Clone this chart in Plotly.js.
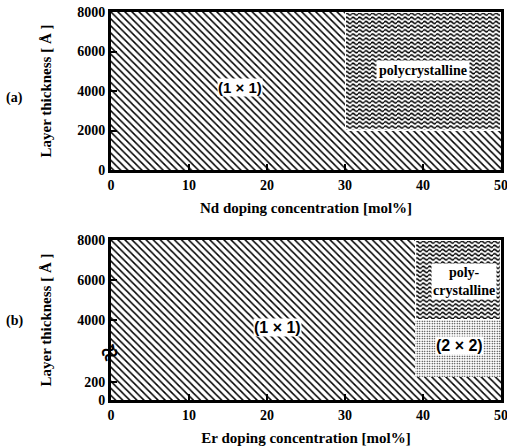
<!DOCTYPE html>
<html>
<head>
<meta charset="utf-8">
<script src="https://cdn.plot.ly/plotly-3.0.1.min.js"></script>
<style>html,body{margin:0;padding:0;background:#fff;}#chart{width:507px;height:447px;}</style>
</head>
<body>
<div id="chart"></div>
<script>
// ---------- data ----------
const xTickVals = [0, 10, 20, 30, 40, 50];

// (a) Nd doping: phase regions [x0,x1] x [y0,y1] (mol%, Å)
const ndPhase = ['1x1', '1x1', 'poly'];
const ndX0 = [0, 30, 30];
const ndX1 = [30, 50, 50];
const ndY0 = [0, 0, 2000];
const ndY1 = [8000, 2000, 8000];
const ndYTicks = [0, 2000, 4000, 6000, 8000];

// (b) Er doping
const erPhase = ['1x1', '1x1', '2x2', 'poly'];
const erX0 = [0, 39, 39, 39];
const erX1 = [39, 50, 50, 50];
const erY0 = [0, 0, 500, 4000];
const erY1 = [8000, 500, 4000, 8000];
const erYTicks = [0, 200, 4000, 6000, 8000];

// ---------- broken-axis transform for (b) ----------
function erScale(v) {
  if (v <= 200) return v * 4.5;
  if (v <= 4000) return 900 + (v - 200) * (3100 / 3800);
  return v;
}
const ident = v => v;

const W = 507, H = 447;
const xDom = [111 / W, 501 / W];
const yDomA = [1 - 170 / H, 1 - 12 / H];
const yDomB = [1 - 400 / H, 1 - 240 / H];

const serif = 'Liberation Serif, Times New Roman, serif';
const sans = 'Liberation Sans, Arial, sans-serif';

const styles = {
  '1x1': {color: 'white', pattern: {shape: '\\', fgcolor: 'black', bgcolor: 'white', size: 5, solidity: 0.3}},
  '2x2': {color: 'white', pattern: {shape: '.', fgcolor: 'black', bgcolor: 'white', size: 2.5, solidity: 0.22}},
  'poly': {color: 'rgba(0,0,0,0)'}
};

function regionTraces(phase, x0, x1, y0, y1, scale, xa, ya) {
  const out = [];
  const kinds = [...new Set(phase)];
  kinds.forEach(k => {
    const idx = phase.map((p, i) => p === k ? i : -1).filter(i => i >= 0);
    out.push({
      type: 'bar',
      name: k,
      x: idx.map(i => (x0[i] + x1[i]) / 2),
      width: idx.map(i => x1[i] - x0[i]),
      base: idx.map(i => scale(y0[i])),
      y: idx.map(i => scale(y1[i]) - scale(y0[i])),
      marker: Object.assign({line: {width: 0}}, styles[k]),
      xaxis: xa, yaxis: ya,
      hoverinfo: 'skip',
      showlegend: false
    });
  });
  return out;
}

function waveSvg(w, h) {
  const svg = "<svg xmlns='http://www.w3.org/2000/svg' width='" + w + "' height='" + h + "'>" +
    "<defs><pattern id='w' width='6.5' height='4.2' patternUnits='userSpaceOnUse'>" +
    "<path d='M0 2.1 Q1.625 0 3.25 2.1 T6.5 2.1' fill='none' stroke='black' stroke-width='1.6'/></pattern></defs>" +
    "<rect width='100%' height='100%' fill='white'/><rect x='1' y='1' width='" + (w - 2) + "' height='" + (h - 2) + "' fill='url(#w)'/></svg>";
  return 'data:image/svg+xml;charset=utf-8,' + encodeURIComponent(svg);
}

function polyImages(phase, x0, x1, y0, y1, scale, xref, yref, yRange, yDom) {
  const imgs = [];
  phase.forEach((p, i) => {
    if (p !== 'poly') return;
    const pw = Math.round((x1[i] - x0[i]) / 50 * (xDom[1] - xDom[0]) * W);
    const ph = Math.round((scale(y1[i]) - scale(y0[i])) / (yRange[1] - yRange[0]) * (yDom[1] - yDom[0]) * H);
    imgs.push({
      source: waveSvg(pw, ph), xref: xref, yref: yref,
      x: x0[i], y: scale(y1[i]), sizex: x1[i] - x0[i], sizey: scale(y1[i]) - scale(y0[i]),
      xanchor: 'left', yanchor: 'top', sizing: 'stretch', layer: 'below'
    });
  });
  return imgs;
}

const data = [].concat(
  regionTraces(ndPhase, ndX0, ndX1, ndY0, ndY1, ident, 'x', 'y'),
  regionTraces(erPhase, erX0, erX1, erY0, erY1, erScale, 'x2', 'y2')
);

const tickFont = {family: serif, size: 14, color: 'black', weight: 700};
const titleFont = {family: serif, size: 15, color: 'black', weight: 700};

function xAxis(anchor, title) {
  return {
    domain: xDom, anchor: anchor, range: [0, 50], tickvals: xTickVals,
    ticks: 'inside', ticklen: 6, tickwidth: 2, tickcolor: 'black',
    showline: true, linewidth: 3, linecolor: 'black', mirror: true,
    showgrid: false, zeroline: false, tickfont: tickFont,
    ticklabelstandoff: 0, ticklabeloverflow: 'allow',
    title: {text: title, font: titleFont, standoff: 11}
  };
}
function yAxis(anchor, dom, vals, text) {
  return {
    domain: dom, anchor: anchor, range: [0, 8000], tickvals: vals, ticktext: text,
    ticks: 'inside', ticklen: 6, tickwidth: 2, tickcolor: 'black',
    showline: true, linewidth: 3, linecolor: 'black', mirror: true,
    showgrid: false, zeroline: false, tickfont: tickFont, ticklabeloverflow: 'allow',
    title: {text: 'Layer thickness [ Å ]', font: titleFont, standoff: 22}
  };
}

const layout = {
  width: W, height: H,
  margin: {l: 0, r: 0, t: 0, b: 0},
  paper_bgcolor: 'white', plot_bgcolor: 'white',
  barmode: 'overlay', bargap: 0,
  showlegend: false,
  xaxis: xAxis('y', 'Nd doping concentration [mol%]'),
  yaxis: yAxis('x', yDomA, ndYTicks, ndYTicks.map(String)),
  xaxis2: xAxis('y2', 'Er doping concentration [mol%]'),
  yaxis2: yAxis('x2', yDomB, erYTicks.map(erScale), erYTicks.map(String)),
  images: [].concat(
    polyImages(ndPhase, ndX0, ndX1, ndY0, ndY1, ident, 'x', 'y', [0, 8000], yDomA),
    polyImages(erPhase, erX0, erX1, erY0, erY1, erScale, 'x2', 'y2', [0, 8000], yDomB)
  ),
  annotations: [
    {xref: 'x', yref: 'y', x: 16.5, y: 4200, text: '(1 × 1)', showarrow: false,
     font: {family: sans, size: 15, color: 'black', weight: 700}, bgcolor: 'white', borderpad: 0},
    {xref: 'x', yref: 'y', x: 40, y: 5050, text: 'polycrystalline', showarrow: false,
     font: {family: serif, size: 14, color: 'black', weight: 700}, bgcolor: 'white', borderpad: 2},
    {xref: 'x2', yref: 'y2', x: 21.3, y: 3650, text: '(1 × 1)', showarrow: false,
     font: {family: sans, size: 16, color: 'black', weight: 700}, bgcolor: 'white', borderpad: 0},
    {xref: 'x2', yref: 'y2', x: 45.3, y: 5950, text: 'poly-<br>crystalline', showarrow: false,
     font: {family: serif, size: 14, color: 'black', weight: 700}, bgcolor: 'white', borderpad: 1},
    {xref: 'x2', yref: 'y2', x: 44.7, y: 2750, text: '(2 × 2)', showarrow: false,
     font: {family: sans, size: 16, color: 'black', weight: 700}, bgcolor: 'white', borderpad: 0},
    {xref: 'paper', yref: 'paper', x: 14 / W, y: 1 - 98 / H, xanchor: 'center', yanchor: 'middle', text: '(a)', showarrow: false,
     font: {family: serif, size: 14, color: 'black', weight: 700}},
    {xref: 'paper', yref: 'paper', x: 14 / W, y: 1 - 321 / H, xanchor: 'center', yanchor: 'middle', text: '(b)', showarrow: false,
     font: {family: serif, size: 14, color: 'black', weight: 700}},
    {xref: 'x2', yref: 'y2', x: 0, y: 2400, xshift: -2, text: '≈', textangle: -30, showarrow: false,
     font: {family: serif, size: 30, color: 'black', weight: 700}}
  ]
};

Plotly.newPlot('chart', data, layout, {staticPlot: true, displayModeBar: false});
</script>
</body>
</html>
